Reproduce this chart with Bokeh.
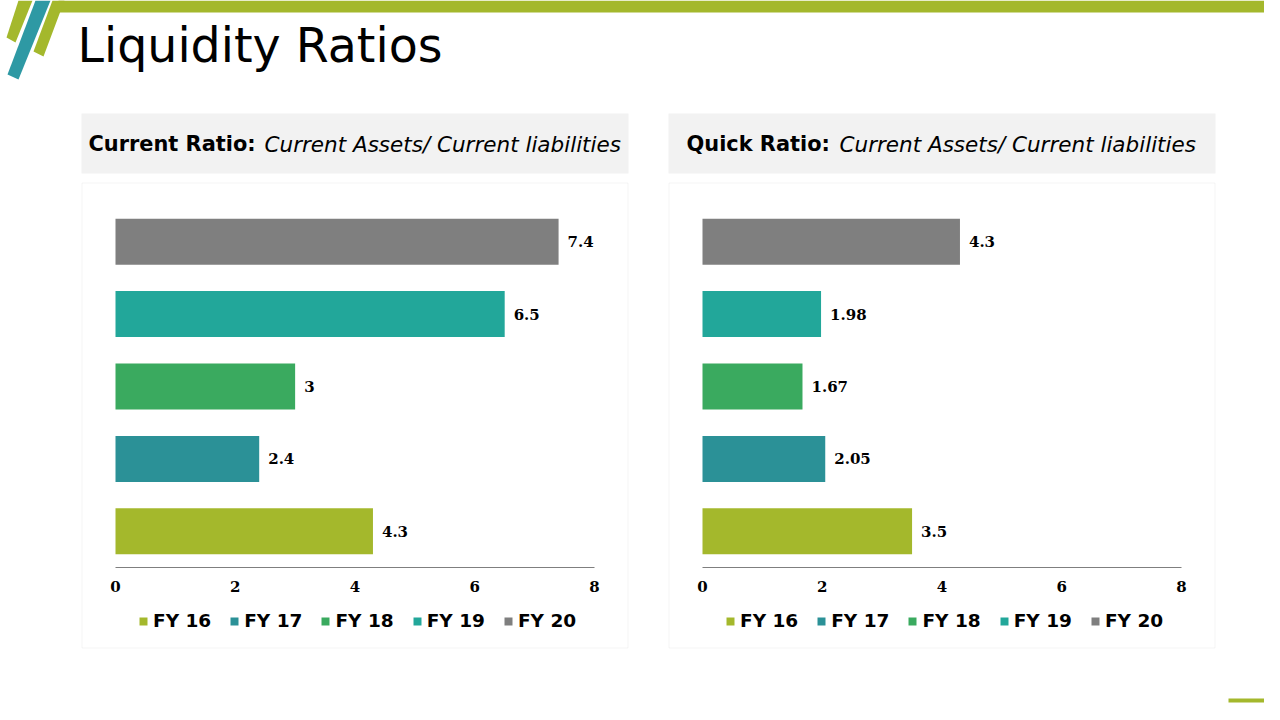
from bokeh.plotting import figure
from bokeh.models import (Range1d, ColumnDataSource, BoxAnnotation, Label, FixedTicker, Spacer)
from bokeh.layouts import column, row
from bokeh.core.properties import value
from bokeh.embed import file_html
from bokeh.resources import INLINE

# ---------------- data ----------------
years = ["FY 16", "FY 17", "FY 18", "FY 19", "FY 20"]
current_ratio = [4.3, 2.4, 3, 6.5, 7.4]
current_labels = ["4.3", "2.4", "3", "6.5", "7.4"]
quick_ratio = [3.5, 2.05, 1.67, 1.98, 4.3]
quick_labels = ["3.5", "2.05", "1.67", "1.98", "4.3"]
x_ticks = [0, 2, 4, 6, 8]
x_max = 8
colors = ["#a4b82c", "#2b9197", "#3aaa5f", "#22a79a", "#7f7f7f"]

title_text = "Liquidity Ratios"
panel_titles = [("Current Ratio:", "Current Assets/ Current liabilities"),
                ("Quick Ratio:", "Current Assets/ Current liabilities")]

GREEN = "#a4b82c"
TEAL = "#2e99a4"
SANS = "DejaVu Sans"
SERIF = "DejaVu Serif"


def blank(fig):
    fig.axis.visible = False
    fig.grid.visible = False
    fig.outline_line_color = None
    fig.background_fill_color = "white"
    fig.border_fill_color = "white"


# ---------------- header (page coordinates 0..1264 x 0..110) ----------------
header = figure(width=1264, height=110, x_range=Range1d(0, 1264), y_range=Range1d(110, 0),
                output_backend="svg", toolbar_location=None, min_border=0)
blank(header)
header.quad(left=[58], right=[1264], top=[0], bottom=[12], color=GREEN, line_color=None)
header.patches(xs=[[18, 32, 15, 6], [52, 64, 43, 33]], ys=[[0, 0, 42, 37], [0, 0, 56, 51]],
               color=GREEN, line_color=None)
header.patches(xs=[[35, 50, 18, 7]], ys=[[0, 0, 79, 74]], color=TEAL, line_color=None)
header.add_layout(Label(x=77, y=44.5, text=title_text, text_font=SANS, text_font_size="47.5px",
                        text_color="black", text_baseline="middle"))

# ---------------- chart panels ----------------
CAN_W, CAN_H = 554, 542          # canvas: page y 110..652
TOP = 110
AX0, AX1 = 37, 516               # x pixel (in canvas) of value 0 and value x_max
AXIS_Y = 567                     # page y of the axis line
STEP = 72.4                      # pixels per category


def make_panel(values, labels, titles, page_left, bold_dx, ital_dx):
    n = len(years)
    ppu = (AX1 - AX0) / x_max
    xr = Range1d(-AX0 / ppu, (CAN_W - AX0) / ppu)
    y_bottom = -0.5 - (TOP + CAN_H - AXIS_Y) / STEP
    y_top = -0.5 + (AXIS_Y - TOP) / STEP
    p = figure(width=CAN_W, height=CAN_H, x_range=xr, y_range=Range1d(y_bottom, y_top),
               output_backend="svg", toolbar_location=None, min_border=0)
    p.background_fill_color = "white"
    p.border_fill_color = "white"
    p.outline_line_color = None
    p.grid.visible = False
    p.extra_x_ranges = {"px": Range1d(page_left, page_left + CAN_W)}
    p.extra_y_ranges = {"px": Range1d(TOP + CAN_H, TOP)}

    box_l = page_left + 3
    box_r = page_left + 550
    p.quad(left=[box_l], right=[box_r], top=[113], bottom=[173], x_range_name="px",
           y_range_name="px", fill_color="#f2f2f2", line_color=None, level="underlay")
    p.add_layout(BoxAnnotation(left=box_l + 0.5, right=box_r - 0.5, top=182.5, bottom=647.5,
                               x_range_name="px", y_range_name="px",
                               fill_alpha=0, line_color="#d9d9d9", line_width=1, level="underlay"))

    bold_t, ital_t = titles
    p.add_layout(Label(x=page_left + bold_dx, y=143.5, text=bold_t, text_font=SANS,
                       text_font_size="20.9px", text_font_style="bold", text_color="black",
                       text_baseline="middle", x_range_name="px", y_range_name="px"))
    p.add_layout(Label(x=page_left + ital_dx, y=143.5, text=ital_t, text_font=SANS,
                       text_font_size="21.5px", text_font_style="italic", text_color="black",
                       text_baseline="middle", x_range_name="px", y_range_name="px"))

    src = ColumnDataSource(dict(year=years, pos=list(range(n)), val=values, lab=labels, col=colors))
    p.hbar(y="pos", right="val", left=0, height=0.635, fill_color="col", line_color=None,
           source=src, legend_field="year")
    p.text(x="val", y="pos", text="lab", source=src, x_offset=9, text_baseline="middle",
           text_font=value(SERIF), text_font_size="15px", text_font_style="bold", text_color="black")

    p.yaxis.visible = False
    xa = p.xaxis[0]
    xa.fixed_location = -0.5
    xa.bounds = (0, x_max)
    xa.ticker = FixedTicker(ticks=x_ticks)
    xa.axis_line_color = "#7f7f7f"
    xa.axis_line_width = 1
    xa.major_tick_line_color = None
    xa.minor_tick_line_color = None
    xa.major_tick_out = 0
    xa.major_tick_in = 0
    xa.major_label_standoff = 13
    xa.major_label_text_font = SERIF
    xa.major_label_text_font_size = "15px"
    xa.major_label_text_font_style = "bold"
    xa.major_label_text_color = "black"

    leg = p.legend[0]
    leg.orientation = "horizontal"
    leg.location = (60, 21)
    leg.glyph_width = 10
    leg.glyph_height = 10
    leg.label_standoff = 5
    leg.spacing = 18
    leg.padding = 2
    leg.margin = 0
    leg.border_line_color = None
    leg.background_fill_alpha = 0
    leg.label_text_font = SANS
    leg.label_text_font_size = "18.5px"
    leg.label_text_font_style = "bold"
    leg.label_text_color = "black"
    return p


left_panel = make_panel(current_ratio, current_labels, panel_titles[0], 78, 10, 186)
right_panel = make_panel(quick_ratio, quick_labels, panel_titles[1], 665, 21, 174)

panels = row(Spacer(width=78, height=CAN_H), left_panel, Spacer(width=33, height=CAN_H),
             right_panel, Spacer(width=45, height=CAN_H))

# ---------------- footer (page y 652..704) ----------------
footer = figure(width=1264, height=52, x_range=Range1d(0, 1264), y_range=Range1d(704, 652),
                output_backend="svg", toolbar_location=None, min_border=0)
blank(footer)
footer.quad(left=[1228], right=[1264], top=[698], bottom=[702], color=GREEN, line_color=None)

page = column(header, panels, footer)
open("out.html", "w").write(file_html(page, INLINE))
